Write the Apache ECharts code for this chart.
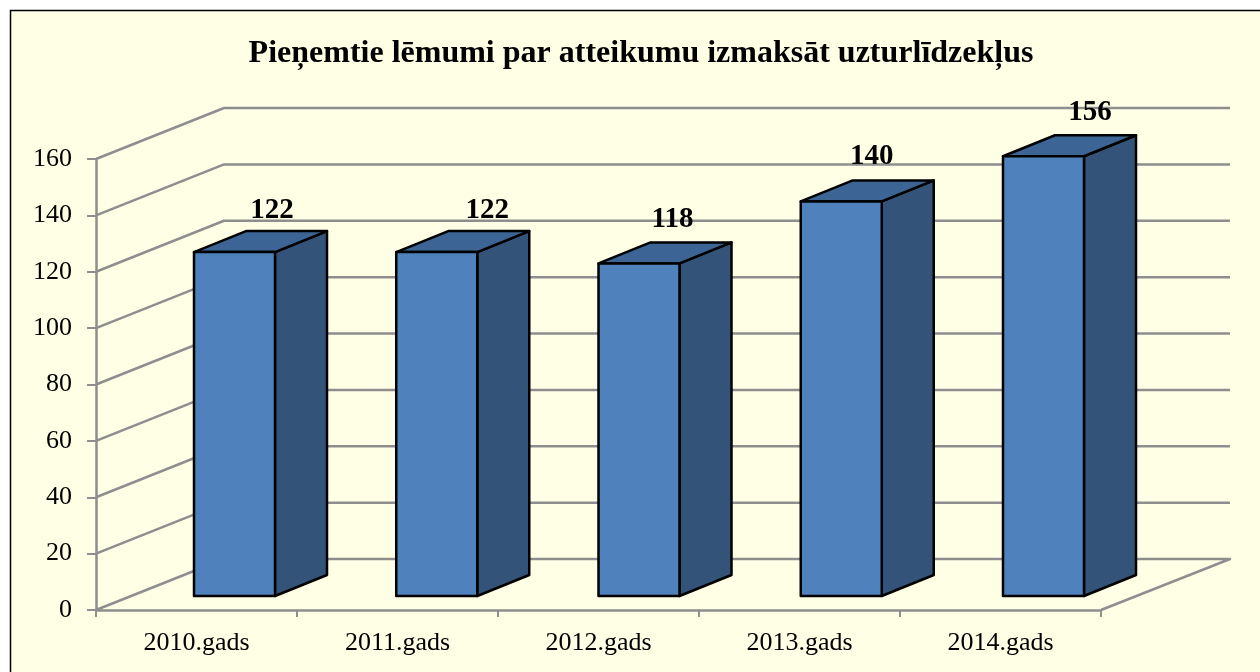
<!DOCTYPE html>
<html><head><meta charset="utf-8">
<style>html,body{margin:0;padding:0;background:#fff}#c{width:1260px;height:672px}</style>
<script src="https://cdn.jsdelivr.net/npm/echarts@6/dist/echarts.min.js"></script>
</head><body><div id="c"></div>
<script>
const titleText = 'Pieņemtie lēmumi par atteikumu izmaksāt uzturlīdzekļus';
const categories = ['2010.gads','2011.gads','2012.gads','2013.gads','2014.gads'];
const values = [122,122,118,140,156];
const wallTicks = [0,20,40,60,80,100,120,140,160];
const labelShiftX = [-3,10,-7,-10,6];
const labelShiftY = [2,2,0,-1,0];

const FONT = '"Liberation Serif","Times New Roman",serif';
const LINE = '#8e8e8e';
const WALL_DX = 128, WALL_DY = 51;      // depth of the chart box
const BAR_DX = 52, BAR_DY = 21;         // depth of each bar
const SHIFT_X = 38, SHIFT_Y = 14;       // bar position inside the floor
const SPREAD = 1.25;                    // slight perspective between bars
const BAR_W = 81;

const chart = echarts.init(document.getElementById('c'), null, {renderer:'canvas'});
chart.setOption({
  animation:false,
  backgroundColor:'#ffffff',
  graphic:[{type:'rect',z:-10,shape:{x:10.5,y:10.5,width:1270,height:680},
    style:{fill:'#FFFFE6',stroke:'#000',lineWidth:1.5}}],
  title:{text:titleText,left:636,top:33,textAlign:'center',
    textStyle:{fontFamily:FONT,fontWeight:'bold',fontSize:32,color:'#000'}},
  grid:{left:96,right:159,top:159,bottom:62},
  xAxis:{type:'category',data:categories,boundaryGap:true,
    axisLine:{lineStyle:{color:LINE,width:2.5}},
    axisTick:{show:true,alignWithLabel:false,length:7,lineStyle:{color:LINE,width:2}},
    axisLabel:{fontFamily:FONT,fontSize:26,color:'#000',margin:20},
    splitLine:{show:false}},
  yAxis:{type:'value',min:0,max:160,interval:20,
    axisLine:{show:true,lineStyle:{color:LINE,width:2.5}},
    axisTick:{show:true,length:9,lineStyle:{color:LINE,width:2}},
    axisLabel:{fontFamily:FONT,fontSize:26,color:'#000',margin:24,padding:[6,0,0,0]},
    splitLine:{show:false}},
  series:[
    {type:'custom',name:'walls',z:1,silent:true,data:wallTicks.map(v=>[0,v]),
     encode:{x:0,y:1},clip:false,
     renderItem(p,api){
       const cs=p.coordSys, y=api.coord([0,api.value(1)])[1], x0=cs.x, x1=cs.x+cs.width;
       const pts=[[x0,y],[x0+WALL_DX,y-WALL_DY],[x1+WALL_DX+1,y-WALL_DY]];
       if(api.value(1)===0) pts.push([x1,y]);
       return {type:'polyline',shape:{points:pts},style:{stroke:LINE,lineWidth:2.5,fill:'none',lineJoin:'round'}};
     }},
    {type:'custom',name:'bars',z:3,data:values.map((v,i)=>[i,v]),encode:{x:0,y:1},clip:false,
     renderItem(p,api){
       const i=api.value(0), v=api.value(1);
       const top=api.coord([i,v]), base=api.coord([i,0]);
       const l=top[0]+SHIFT_X+i*SPREAD-BAR_W/2, r=l+BAR_W, t=top[1]-SHIFT_Y, b=base[1]-SHIFT_Y;
       const st={stroke:'#000',lineWidth:2.5,lineJoin:'round'};
       return {type:'group',children:[
         {type:'polygon',shape:{points:[[r,t],[r+BAR_DX,t-BAR_DY],[r+BAR_DX,b-BAR_DY],[r,b]]},
          style:{...st,fill:'#335379'}},
         {type:'polygon',shape:{points:[[l,t],[l+BAR_DX,t-BAR_DY],[r+BAR_DX,t-BAR_DY],[r,t]]},
          style:{...st,fill:'#3C6595'}},
         {type:'rect',shape:{x:l,y:t,width:BAR_W,height:b-t},style:{...st,fill:'#4F81BD'}},
         {type:'text',z2:20,style:{text:String(v),x:r+labelShiftX[i],y:t-44+labelShiftY[i],align:'center',verticalAlign:'middle',
           fontFamily:FONT,fontWeight:'bold',fontSize:29,fill:'#000'}}
       ]};
     }}
  ]
});
</script></body></html>
